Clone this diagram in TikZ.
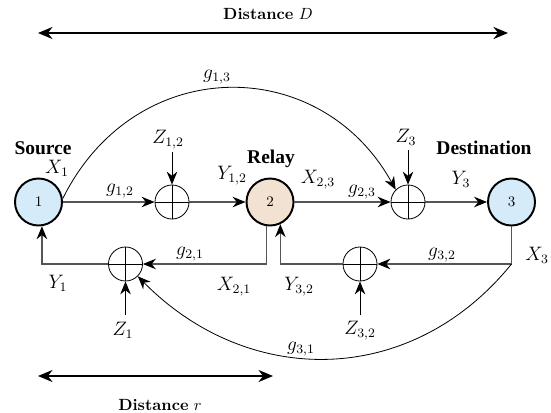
\documentclass[tikz,border=0pt]{standalone}
\usepackage{fontspec}
\newfontfamily\tnr{Liberation Serif}
\usetikzlibrary{arrows.meta}
\definecolor{nodeblue}{RGB}{214,235,250}
\definecolor{nodetan}{RGB}{242,226,209}
\definecolor{sig}{RGB}{85,85,85}
\begin{document}
\begin{tikzpicture}[x=0.617pt,y=-0.617pt,
 terminal/.style={circle,draw,line width=1.2pt,minimum size=29pt,inner sep=0pt,font=\small},
 adder/.style={circle,draw,line width=0.5pt,minimum size=21pt,inner sep=0pt,
   path picture={\draw[line width=0.5pt] (path picture bounding box.north)--(path picture bounding box.south)
     (path picture bounding box.west)--(path picture bounding box.east);}},
 sigline/.style={draw=sig,line width=0.8pt,-{Stealth[length=8pt,width=6.5pt,color=black]}},
 noise/.style={black,line width=0.6pt,-{Stealth[length=8pt,width=6.5pt]}},
 link/.style={black,line width=0.5pt,-{Stealth[length=8pt,width=6.5pt]}},
 dist/.style={black,line width=0.8pt,{Stealth[length=9pt,width=7.5pt]}-{Stealth[length=9pt,width=7.5pt]}},
 lbl/.style={inner sep=0pt,font=\fontsize{11.5}{13}\selectfont},
 dlbl/.style={inner sep=0pt},
 title/.style={font=\tnr\bfseries\fontsize{12}{14}\selectfont,inner sep=0pt}
]
\useasboundingbox (0,0) rectangle (551,412);

% terminals and adders
\node[terminal,fill=nodeblue] (n1) at (38.5,202) {1};
\node[terminal,fill=nodetan] (n2) at (270,202) {2};
\node[terminal,fill=nodeblue] (n3) at (511.5,202) {3};
\node[adder] (a12) at (172,202) {};
\node[adder] (a3) at (408,202) {};
\node[adder] (a21) at (125.5,264) {};
\node[adder] (a32) at (360,264) {};

% free ends
\coordinate (dl) at (38,33);
\coordinate (dr) at (508,33);
\coordinate (rl) at (38,376);
\coordinate (rr) at (273,376);
\coordinate (z12in) at (172,152);
\coordinate (z3in) at (408,150);
\coordinate (z1in) at (125.5,315);
\coordinate (z32in) at (360,315);
\coordinate (c3) at (n3.south |- a32.east);

% distance arrows
\draw[dist] (dl) -- (dr);
\draw[dist] (rl) -- (rr);

% signal lines
\draw[sigline] (n1) -- (a12);
\draw[sigline] (a12) -- (n2);
\draw[sigline] (n2) -- (a3);
\draw[sigline] (a3) -- (n3);
\draw[sigline] (n3.south) |- (a32.east);
\draw[sigline] (a32.west) -| (n2.-65);
\draw[sigline] (n2.-98) |- (a21.east);
\draw[sigline] (a21.west) -| (n1.-82);

% noise inputs
\draw[noise] (z12in) -- (a12.north);
\draw[noise] (z3in) -- (a3.north);
\draw[noise] (z1in) -- (a21.south);
\draw[noise] (z32in) -- (a32.south);

% direct links
\draw[link] (n1.8) .. controls (135,53) and (320,53) .. (a3.135);
\draw[link] (c3) .. controls (411,388) and (248,388) .. (a21.-45);

% labels
\node[dlbl] (tD) at (268,14) {\textbf{Distance} $D$};
\node[dlbl] (tr) at (160,405) {\textbf{Distance} $r$};
\node[title] (tsrc) at (43,148) {Source};
\node[title] (trel) at (271,159) {Relay};
\node[title] (tdst) at (484,148) {Destination};
\node[lbl] (l13) at (217,77) {$g_{1,3}$};
\node[lbl] (lx1) at (57,168) {$X_1$};
\node[lbl] (lz12) at (168,140) {$Z_{1,2}$};
\node[lbl] (lg12) at (120,191) {$g_{1,2}$};
\node[lbl] (ly12) at (232,176) {$Y_{1,2}$};
\node[lbl] (lx23) at (318,180) {$X_{2,3}$};
\node[lbl] (lg23) at (362,192) {$g_{2,3}$};
\node[lbl] (lz3) at (406,137) {$Z_3$};
\node[lbl] (ly3) at (461,179) {$Y_3$};
\node[lbl] (lx3) at (537,255) {$X_3$};
\node[lbl] (lg21) at (190,254) {$g_{2,1}$};
\node[lbl] (lg32) at (442,255) {$g_{3,2}$};
\node[lbl] (ly1) at (58,283) {$Y_1$};
\node[lbl] (lx21) at (234,287) {$X_{2,1}$};
\node[lbl] (ly32) at (299,287) {$Y_{3,2}$};
\node[lbl] (lz1) at (123,330) {$Z_1$};
\node[lbl] (lz32) at (360,331) {$Z_{3,2}$};
\node[lbl] (lg31) at (301,349) {$g_{3,1}$};
\end{tikzpicture}
\end{document}
